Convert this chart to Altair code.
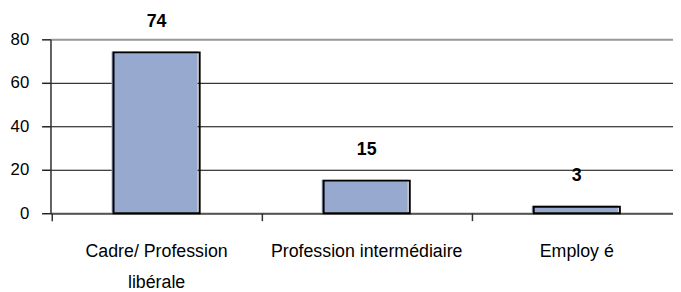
import altair as alt
import pandas as pd

categories = ["Cadre/ Profession|libérale", "Profession intermédiaire", "Employ é"]
values = [74, 15, 3]

df = pd.DataFrame({"cat": categories, "val": values})

FONT = "Liberation Sans"
STEP_PAD = -62  # half of the inner padding between bands, in pixels

xscale = alt.Scale(range=[0, 640], paddingInner=0.59, paddingOuter=0.3)

x = alt.X(
    "cat:N",
    sort=categories,
    title=None,
    scale=xscale,
    axis=alt.Axis(
        labelAngle=0,
        labelFont=FONT,
        labelFontSize=18,
        labelColor="black",
        labelPadding=30,
        labelLineHeight=31,
        labelBaseline="top",
        labelExpr="split(datum.label, '|')",
        ticks=False,
        domainColor="#555555",
        domainWidth=2,
        grid=False,
        labelLimit=400,
    ),
)

y = alt.Y(
    "val:Q",
    title=None,
    scale=alt.Scale(domain=[0, 80], nice=False),
    axis=alt.Axis(
        values=[0, 20, 40, 60, 80],
        labelFont=FONT,
        labelFontSize=17,
        labelColor="black",
        labelPadding=13,
        tickSize=9,
        tickColor="#222222",
        tickWidth=1.5,
        domainColor="#333333",
        domainWidth=1.5,
        grid=True,
        gridColor={"condition": {"test": "datum.value === 80", "value": "#999999"}, "value": "black"},
        gridWidth={"condition": {"test": "datum.value === 80", "value": 2}, "value": 1},
        gridOpacity=1,
    ),
)

base = alt.Chart(df)

fill_bars = base.mark_bar(color="#98a9cf", xOffset=-2, yOffset=-1).encode(x=x, y=y)
stroke_bars = base.mark_bar(fillOpacity=0, stroke="black", strokeWidth=2).encode(x=x, y=y)
labels = base.mark_text(
    font=FONT, fontSize=18, fontWeight="bold", color="black", baseline="middle", dy=-31
).encode(x=x, y=y, text="val:Q")

xticks = base.mark_rule(color="#333333", strokeWidth=1.5, xOffset=STEP_PAD).encode(
    x=alt.X("cat:N", sort=categories, scale=xscale, bandPosition=0),
    y=alt.value(176),
    y2=alt.value(184),
)

chart = (
    alt.layer(fill_bars, stroke_bars, labels, xticks)
    .properties(
        width=630,
        height=176,
        autosize=alt.AutoSizeParams(type="none"),
        padding={"left": 43, "top": 30, "right": 0, "bottom": 78},
    )
    .configure_view(stroke=None)
    .configure(background="white")
)

chart.save("out.html", embed_options={"renderer": "svg", "actions": False})
